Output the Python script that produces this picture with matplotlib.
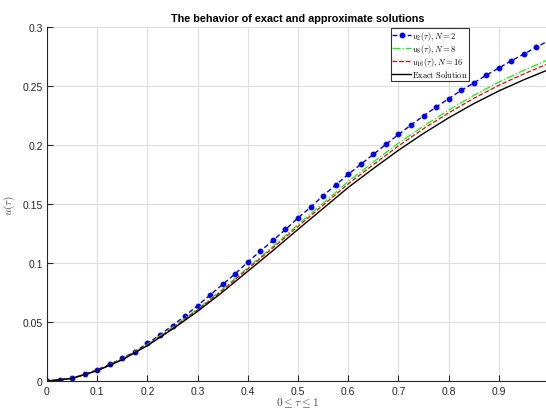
import numpy as np
import matplotlib
matplotlib.use("Agg")
import matplotlib.pyplot as plt

plt.rcParams['font.family'] = ['Liberation Sans', 'DejaVu Sans']
plt.rcParams['mathtext.fontset'] = 'cm'

# u_2(tau), N = 2 : read every 0.025
tau_blue = [0.0, 0.025, 0.05, 0.075, 0.1, 0.125, 0.15, 0.175, 0.2, 0.225,
            0.25, 0.275, 0.3, 0.325, 0.35, 0.375, 0.4, 0.425, 0.45, 0.475,
            0.5, 0.525, 0.55, 0.575, 0.6, 0.625, 0.65, 0.675, 0.7, 0.725,
            0.75, 0.775, 0.8, 0.825, 0.85, 0.875, 0.9, 0.925, 0.95, 0.975, 1.0]
u_n2 = [0.0, 0.0008, 0.0025, 0.0056, 0.0096, 0.0141, 0.0191, 0.0250, 0.0318, 0.0391,
        0.0470, 0.0552, 0.0639, 0.0729, 0.0819, 0.0909, 0.1008, 0.1101, 0.1191, 0.1284,
        0.1382, 0.1472, 0.1571, 0.1661, 0.1751, 0.1836, 0.1920, 0.2005, 0.2089, 0.2169,
        0.2247, 0.2321, 0.2392, 0.2462, 0.2525, 0.2592, 0.2652, 0.2714, 0.2771, 0.2830, 0.2885]

# the other curves: read every 0.05
tau = [0.0, 0.05, 0.1, 0.15, 0.2, 0.25, 0.3, 0.35, 0.4, 0.45, 0.5,
       0.55, 0.6, 0.65, 0.7, 0.75, 0.8, 0.85, 0.9, 0.95, 1.0]
u_n8 = [0.0, 0.0023, 0.0089, 0.0185, 0.0310, 0.0455, 0.0610, 0.0780, 0.0960, 0.1140, 0.1325,
        0.1507, 0.1690, 0.1855, 0.2015, 0.2160, 0.2295, 0.2420, 0.2533, 0.2633, 0.2725]
u_n16 = [0.0, 0.0022, 0.0088, 0.0183, 0.0305, 0.0448, 0.0602, 0.0770, 0.0950, 0.1128, 0.1310,
         0.1490, 0.1670, 0.1833, 0.1992, 0.2138, 0.2272, 0.2395, 0.2506, 0.2603, 0.2693]
u_exact = [0.0, 0.0022, 0.0087, 0.0180, 0.0300, 0.0440, 0.0590, 0.0755, 0.0930, 0.1105, 0.1285,
           0.1462, 0.1640, 0.1800, 0.1955, 0.2098, 0.2230, 0.2350, 0.2458, 0.2553, 0.2640]

xticks = [0, 0.1, 0.2, 0.3, 0.4, 0.5, 0.6, 0.7, 0.8, 0.9]
yticks = [0, 0.05, 0.1, 0.15, 0.2, 0.25, 0.3]

fig = plt.figure(figsize=(5.46, 4.10), dpi=100)
ax = fig.add_axes([47/546, 28/410, 502/546, 354/410])

dark = (0.15, 0.15, 0.15)
ax.plot(tau_blue, u_n2, '--', color='b', marker='o', markersize=3.2, lw=1.0,
        dashes=(3.5, 2), label=r'$u_2(\tau), N=2$')
ax.plot(tau, u_n8, '-.', color=(0, 1, 0), lw=0.9, label=r'$u_8(\tau), N=8$')
ax.plot(tau, u_n16, '--', color='r', lw=0.9, label=r'$u_{16}(\tau), N=16$')
ax.plot(tau, u_exact, '-', color='k', lw=1.0, label=r'$\mathrm{Exact\ Solution}$')

ax.set_xlim(0, 1.0)
ax.set_ylim(0, 0.3)
ax.set_xticks(xticks)
ax.set_xticklabels([str(v) for v in xticks])
ax.set_yticks(yticks)
ax.set_yticklabels(['0', '0.05', '0.1', '0.15', '0.2', '0.25', '0.3'])
ax.grid(True, color=(0.87, 0.87, 0.87), lw=0.8)
ax.set_axisbelow(True)
ax.tick_params(direction='in', length=4, width=0.8, colors=dark, labelsize=7.5)
ax.tick_params(axis='x', pad=3.5)
ax.tick_params(axis='y', pad=3)
for s in ['top', 'right']:
    ax.spines[s].set_visible(False)
for s in ['left', 'bottom']:
    ax.spines[s].set_color(dark)
    ax.spines[s].set_linewidth(0.8)

ax.set_title('The behavior of exact and approximate solutions', fontsize=7.8,
             fontweight='bold', color='k', pad=4)
ax.set_xlabel(r'$0 \leq \tau \leq 1$', fontsize=8.2, color=(0.3, 0.3, 0.3))
ax.xaxis.set_label_coords(0.5, -0.041)
ax.set_ylabel(r'$u(\tau)$', fontsize=8.2, color=(0.3, 0.3, 0.3))
ax.yaxis.set_label_coords(-0.06, 0.5)

leg = ax.legend(loc='upper left', bbox_to_anchor=(391/546, 1 - 29/410),
                bbox_transform=fig.transFigure, fontsize=6, frameon=True,
                fancybox=False, borderpad=0.15, labelspacing=0.0, numpoints=1,
                handlelength=2.3, handletextpad=0.1, borderaxespad=0)
leg.get_frame().set_edgecolor('k')
leg.get_frame().set_linewidth(0.8)

fig.savefig('out.png', dpi=100)
